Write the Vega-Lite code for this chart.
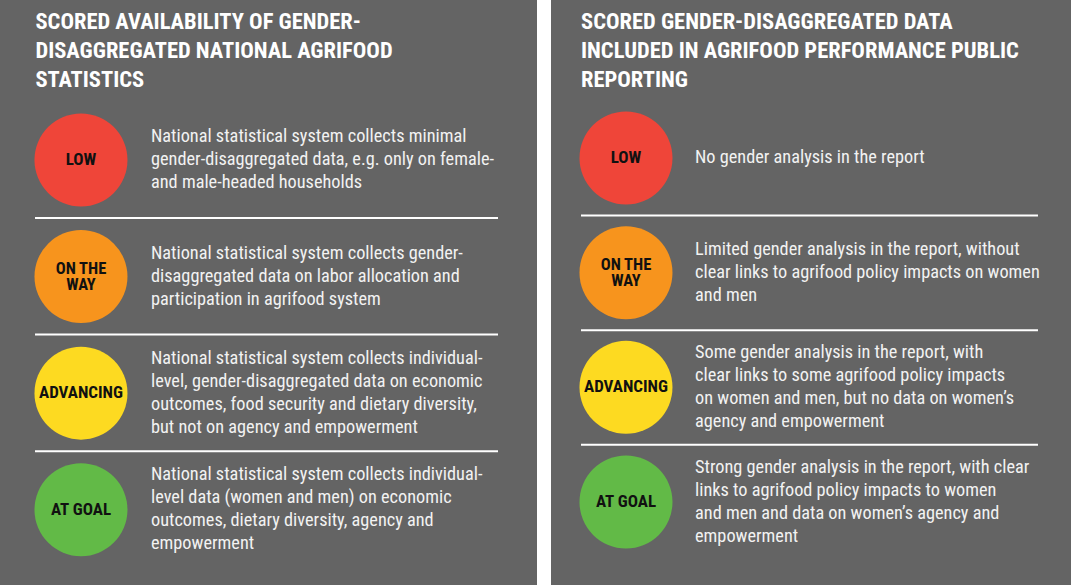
{
  "$schema": "https://vega.github.io/schema/vega-lite/v6.json",
  "padding": 0,
  "background": "#ffffff",
  "spacing": 14,
  "config": {
    "view": {"fill": "#646464", "stroke": null},
    "font": "Roboto Condensed, Liberation Sans Narrow, DejaVu Sans Condensed, Roboto, sans-serif"
  },
  "datasets": {
    "titles": [
      {"panel": "L", "level": 0, "title": ["SCORED AVAILABILITY OF GENDER-", "DISAGGREGATED NATIONAL AGRIFOOD", "STATISTICS"]},
      {"panel": "R", "level": 0, "title": ["SCORED GENDER-DISAGGREGATED DATA", "INCLUDED IN AGRIFOOD PERFORMANCE PUBLIC", "REPORTING"]}
    ],
    "levels": [
      {"panel": "L", "level": 1, "score": "LOW", "label": ["LOW"], "desc": ["National statistical system collects minimal", "gender-disaggregated data, e.g. only on female-", "and male-headed households"]},
      {"panel": "L", "level": 2, "score": "ON THE WAY", "label": ["ON THE", "WAY"], "desc": ["National statistical system collects gender-", "disaggregated data on labor allocation and", "participation in agrifood system"]},
      {"panel": "L", "level": 3, "score": "ADVANCING", "label": ["ADVANCING"], "desc": ["National statistical system collects individual-", "level, gender-disaggregated data on economic", "outcomes, food security and dietary diversity,", "but not on agency and empowerment"]},
      {"panel": "L", "level": 4, "score": "AT GOAL", "label": ["AT GOAL"], "desc": ["National statistical system collects individual-", "level data (women and men) on economic", "outcomes, dietary diversity, agency and", "empowerment"]},
      {"panel": "R", "level": 1, "score": "LOW", "label": ["LOW"], "desc": ["No gender analysis in the report"]},
      {"panel": "R", "level": 2, "score": "ON THE WAY", "label": ["ON THE", "WAY"], "desc": ["Limited gender analysis in the report, without", "clear links to agrifood policy impacts on women", "and men"]},
      {"panel": "R", "level": 3, "score": "ADVANCING", "label": ["ADVANCING"], "desc": ["Some gender analysis in the report, with", "clear links to some agrifood policy impacts", "on women and men, but no data on women\u2019s", "agency and empowerment"]},
      {"panel": "R", "level": 4, "score": "AT GOAL", "label": ["AT GOAL"], "desc": ["Strong gender analysis in the report, with clear", "links to agrifood policy impacts to women", "and men and data on women\u2019s agency and", "empowerment"]}
    ]
  },
  "resolve": {"scale": {"x": "independent", "y": "independent"}},
  "hconcat": [
    {
      "width": 537,
      "height": 585,
      "encoding": {
        "y": {"field": "level", "type": "quantitative", "axis": null, "scale": {"domain": [-0.3726, 4.6459], "reverse": true, "nice": false, "zero": false}}
      },
      "layer": [
        {
          "data": {"name": "titles"},
          "transform": [{"filter": "datum.panel === 'L'"}],
          "mark": {"type": "text", "align": "left", "baseline": "middle", "fontSize": 22.5, "fontWeight": "bold", "lineHeight": 29, "color": "#ffffff", "dy": -21.4},
          "encoding": {
            "x": {"datum": 6.6, "type": "quantitative", "axis": null, "scale": {"domain": [0, 100], "nice": false, "zero": false}},
            "text": {"field": "title"}
          }
        },
        {
          "data": {"name": "levels"},
          "transform": [{"filter": "datum.panel === 'L' && datum.level < 4"}],
          "mark": {"type": "rule", "color": "#ffffff", "strokeWidth": 2, "yOffset": 58},
          "encoding": {
            "x": {"datum": 6.52, "type": "quantitative"},
            "x2": {"datum": 92.74}
          }
        },
        {
          "data": {"name": "levels"},
          "transform": [{"filter": "datum.panel === 'L'"}],
          "mark": {"type": "point", "shape": "circle", "filled": true, "opacity": 1, "size": 8649, "strokeWidth": 0},
          "encoding": {
            "x": {"datum": 15.08, "type": "quantitative"},
            "color": {"field": "score", "type": "nominal", "legend": null, "scale": {"domain": ["LOW", "ON THE WAY", "ADVANCING", "AT GOAL"], "range": ["#EF4539", "#F7941D", "#FDDA21", "#62BA47"]}}
          }
        },
        {
          "data": {"name": "levels"},
          "transform": [{"filter": "datum.panel === 'L' && datum.label.length === 1"}],
          "mark": {"type": "text", "align": "center", "baseline": "middle", "fontSize": 17, "fontWeight": "bold", "lineHeight": 16, "color": "#111111"},
          "encoding": {
            "x": {"datum": 15.08, "type": "quantitative"},
            "text": {"field": "label"}
          }
        },
        {
          "data": {"name": "levels"},
          "transform": [{"filter": "datum.panel === 'L' && datum.label.length === 2"}],
          "mark": {"type": "text", "align": "center", "baseline": "middle", "fontSize": 16.5, "fontWeight": "bold", "lineHeight": 16, "color": "#111111", "dy": -8},
          "encoding": {
            "x": {"datum": 15.08, "type": "quantitative"},
            "text": {"field": "label"}
          }
        },
        {
          "data": {"name": "levels"},
          "transform": [{"filter": "datum.panel === 'L' && datum.desc.length === 3"}],
          "mark": {"type": "text", "align": "left", "baseline": "middle", "fontSize": 18.3, "lineHeight": 23, "color": "#f2f2f2", "dy": -23},
          "encoding": {
            "x": {"datum": 28.12, "type": "quantitative"},
            "text": {"field": "desc"}
          }
        },
        {
          "data": {"name": "levels"},
          "transform": [{"filter": "datum.panel === 'L' && datum.desc.length === 4"}],
          "mark": {"type": "text", "align": "left", "baseline": "middle", "fontSize": 18.3, "lineHeight": 23, "color": "#f2f2f2", "dy": -34.5},
          "encoding": {
            "x": {"datum": 28.12, "type": "quantitative"},
            "text": {"field": "desc"}
          }
        }
      ]
    },
    {
      "width": 520,
      "height": 585,
      "encoding": {
        "y": {"field": "level", "type": "quantitative", "axis": null, "scale": {"domain": [-0.3779, 4.7238], "reverse": true, "nice": false, "zero": false}}
      },
      "layer": [
        {
          "data": {"name": "titles"},
          "transform": [{"filter": "datum.panel === 'R'"}],
          "mark": {"type": "text", "align": "left", "baseline": "middle", "fontSize": 22.5, "fontWeight": "bold", "lineHeight": 29, "color": "#ffffff", "dy": -21.3},
          "encoding": {
            "x": {"datum": 5.77, "type": "quantitative", "axis": null, "scale": {"domain": [0, 100], "nice": false, "zero": false}},
            "text": {"field": "title"}
          }
        },
        {
          "data": {"name": "levels"},
          "transform": [{"filter": "datum.panel === 'R' && datum.level < 4"}],
          "mark": {"type": "rule", "color": "#ffffff", "strokeWidth": 2, "yOffset": 57.5},
          "encoding": {
            "x": {"datum": 5.77, "type": "quantitative"},
            "x2": {"datum": 93.65}
          }
        },
        {
          "data": {"name": "levels"},
          "transform": [{"filter": "datum.panel === 'R'"}],
          "mark": {"type": "point", "shape": "circle", "filled": true, "opacity": 1, "size": 8649, "strokeWidth": 0},
          "encoding": {
            "x": {"datum": 14.42, "type": "quantitative"},
            "color": {"field": "score", "type": "nominal", "legend": null, "scale": {"domain": ["LOW", "ON THE WAY", "ADVANCING", "AT GOAL"], "range": ["#EF4539", "#F7941D", "#FDDA21", "#62BA47"]}}
          }
        },
        {
          "data": {"name": "levels"},
          "transform": [{"filter": "datum.panel === 'R' && datum.label.length === 1"}],
          "mark": {"type": "text", "align": "center", "baseline": "middle", "fontSize": 17, "fontWeight": "bold", "lineHeight": 16, "color": "#111111"},
          "encoding": {
            "x": {"datum": 14.42, "type": "quantitative"},
            "text": {"field": "label"}
          }
        },
        {
          "data": {"name": "levels"},
          "transform": [{"filter": "datum.panel === 'R' && datum.label.length === 2"}],
          "mark": {"type": "text", "align": "center", "baseline": "middle", "fontSize": 16.5, "fontWeight": "bold", "lineHeight": 16, "color": "#111111", "dy": -8},
          "encoding": {
            "x": {"datum": 14.42, "type": "quantitative"},
            "text": {"field": "label"}
          }
        },
        {
          "data": {"name": "levels"},
          "transform": [{"filter": "datum.panel === 'R' && datum.desc.length === 1"}],
          "mark": {"type": "text", "align": "left", "baseline": "middle", "fontSize": 18.3, "lineHeight": 23, "color": "#f2f2f2"},
          "encoding": {
            "x": {"datum": 27.7, "type": "quantitative"},
            "text": {"field": "desc"}
          }
        },
        {
          "data": {"name": "levels"},
          "transform": [{"filter": "datum.panel === 'R' && datum.desc.length === 3"}],
          "mark": {"type": "text", "align": "left", "baseline": "middle", "fontSize": 18.3, "lineHeight": 23, "color": "#f2f2f2", "dy": -23},
          "encoding": {
            "x": {"datum": 27.7, "type": "quantitative"},
            "text": {"field": "desc"}
          }
        },
        {
          "data": {"name": "levels"},
          "transform": [{"filter": "datum.panel === 'R' && datum.desc.length === 4"}],
          "mark": {"type": "text", "align": "left", "baseline": "middle", "fontSize": 18.3, "lineHeight": 23, "color": "#f2f2f2", "dy": -34.5},
          "encoding": {
            "x": {"datum": 27.7, "type": "quantitative"},
            "text": {"field": "desc"}
          }
        }
      ]
    }
  ]
}
